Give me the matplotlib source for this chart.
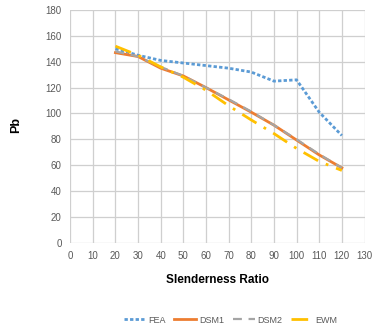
import matplotlib
matplotlib.use("Agg")
import matplotlib.pyplot as plt

plt.rcParams['font.family'] = ['Liberation Sans', 'DejaVu Sans']

x = [20, 30, 40, 50, 60, 70, 80, 90, 100, 110, 120]
fea = [150, 145, 141, 139, 137, 135, 132, 125, 126, 101, 83]
dsm1 = [147, 144, 135, 129, 120, 110.5, 101, 91, 79.5, 68, 58]
dsm2 = [148, 144, 136, 129, 120, 111, 101.5, 91, 80, 68.5, 58]
ewm = [152, 145, 136, 128, 118, 106, 95, 84.5, 73, 63, 56]

xticks = list(range(0, 131, 10))
yticks = list(range(0, 181, 20))

fig = plt.figure(figsize=(3.75, 3.31), dpi=100)
ax = fig.add_axes([0.187, 0.266, 0.785, 0.704])

ax.plot(x, fea, color='#5B9BD5', lw=2.0, ls=(0, (1.2, 0.8)), label='FEA')
ax.plot(x, dsm1, color='#ED7D31', lw=2.0, label='DSM1')
ax.plot(x, dsm2, color='#A5A5A5', lw=1.6, ls=(0, (4, 3)), label='DSM2')
ax.plot(x, ewm, color='#FFC000', lw=2.0, ls=(0, (6, 3, 1, 3)), label='EWM')

ax.set_xlim(0, 130)
ax.set_ylim(0, 180)
ax.set_xticks(xticks)
ax.set_yticks(yticks)
ax.tick_params(axis='both', labelsize=7, colors='#595959', length=0, pad=6)
ax.grid(True, color='#CFCFCF', lw=0.9)
ax.set_axisbelow(True)
for s in ax.spines.values():
    s.set_visible(False)

ax.set_xlabel('Slenderness Ratio', fontsize=8.5, fontweight='bold', labelpad=9)
fig.text(0.042, 0.622, 'Pb', rotation=90, fontsize=9, fontweight='bold', va='center', ha='center')

fig.legend(loc='lower center', bbox_to_anchor=(0.615, -0.005), ncol=4, frameon=False,
           fontsize=6.5, handlelength=2.4, columnspacing=1.0, handletextpad=0.3,
           labelcolor='#595959')

fig.savefig('out.png', dpi=100)
